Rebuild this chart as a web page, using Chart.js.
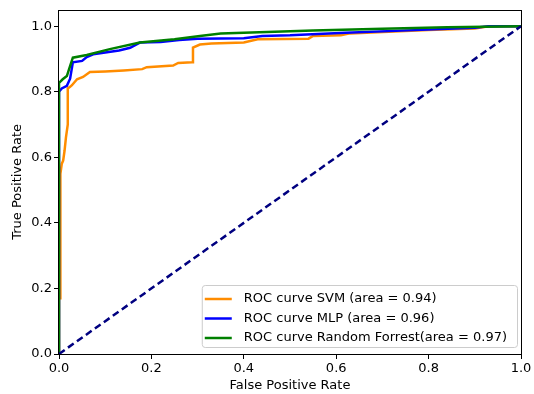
<!DOCTYPE html>
<html>
<head>
<meta charset="utf-8">
<script src="https://cdn.jsdelivr.net/npm/chart.js@4"></script>
<style>
    html, body { margin: 0; padding: 0; background: #fff; }
</style>
</head>
<body>
<canvas id="roc" width="534" height="394"></canvas>
<script>
// ROC points
const svmFpr = [0, 0, 0.003, 0.003, 0.006, 0.009, 0.012, 0.015, 0.019, 0.019, 0.024, 0.028, 0.039, 0.052, 0.067, 0.10, 0.14, 0.18, 0.19, 0.247, 0.258, 0.288, 0.29, 0.305, 0.33, 0.40, 0.43, 0.54, 0.55, 0.61, 0.63, 0.75, 0.80, 0.90, 0.93, 1.0];
const svmTpr = [0, 0.17, 0.17, 0.55, 0.58, 0.59, 0.62, 0.66, 0.70, 0.81, 0.815, 0.82, 0.838, 0.845, 0.86, 0.862, 0.865, 0.869, 0.875, 0.88, 0.888, 0.89, 0.935, 0.944, 0.947, 0.95, 0.96, 0.962, 0.97, 0.972, 0.978, 0.985, 0.988, 0.993, 1.0, 1.0];

const mlpFpr = [0, 0, 0.006, 0.017, 0.024, 0.03, 0.05, 0.06, 0.074, 0.10, 0.13, 0.154, 0.175, 0.22, 0.26, 0.30, 0.40, 0.44, 0.50, 0.62, 0.77, 0.90, 0.93, 1.0];
const mlpTpr = [0, 0.80, 0.81, 0.818, 0.84, 0.89, 0.894, 0.906, 0.914, 0.92, 0.926, 0.934, 0.95, 0.952, 0.958, 0.962, 0.963, 0.97, 0.972, 0.98, 0.988, 0.995, 1.0, 1.0];

const rfFpr = [0, 0, 0.008, 0.017, 0.022, 0.03, 0.06, 0.11, 0.175, 0.25, 0.305, 0.35, 0.45, 0.55, 0.70, 0.84, 1.0];
const rfTpr = [0, 0.827, 0.838, 0.848, 0.87, 0.904, 0.912, 0.93, 0.95, 0.96, 0.97, 0.978, 0.982, 0.987, 0.992, 0.997, 1.0];

const chanceFpr = [0, 1];
const chanceTpr = [0, 1];

const labels = ['ROC curve SVM (area = 0.94)', 'ROC curve MLP (area = 0.96)', 'ROC curve Random Forrest(area = 0.97)'];
const xTicks = [0, 0.2, 0.4, 0.6, 0.8, 1.0];
const yTicks = [0, 0.2, 0.4, 0.6, 0.8, 1.0];

const FONT = '"DejaVu Sans", sans-serif';

function pts(xs, ys) {
    return xs.map((x, i) => ({ x: x, y: ys[i] }));
}

// black box round the plot area, like matplotlib spines
const frame = {
    id: 'frame',
    afterDatasetsDraw(chart) {
        const a = chart.chartArea;
        const ctx = chart.ctx;
        ctx.save();
        ctx.strokeStyle = '#000';
        ctx.lineWidth = 1;
        ctx.strokeRect(Math.round(a.left) - 0.5, Math.round(a.top) + 0.5, Math.round(a.right - a.left) + 1, Math.round(a.bottom - a.top));
        ctx.restore();
    }
};

// legend box in the lower right corner
const boxLegend = {
    id: 'boxLegend',
    afterDraw(chart) {
        const ctx = chart.ctx;
        const a = chart.chartArea;
        const items = chart.data.datasets.filter(d => d.label);
        ctx.save();
        ctx.font = '13px ' + FONT;
        const textW = Math.max(...items.map(d => ctx.measureText(d.label).width));
        const w = 42 + textW + 10;
        const h = 62;
        const right = a.right - 4, bottom = a.bottom - 7;
        const left = right - w, top = bottom - h;
        ctx.beginPath();
        ctx.roundRect(left + 0.5, top + 0.5, w, h, 3);
        ctx.fillStyle = 'rgba(255,255,255,0.8)';
        ctx.fill();
        ctx.strokeStyle = '#cccccc';
        ctx.lineWidth = 1;
        ctx.stroke();
        items.forEach((d, i) => {
            const y = top + 14 + i * 19.5;
            ctx.beginPath();
            ctx.moveTo(left + 3, y);
            ctx.lineTo(left + 30, y);
            ctx.strokeStyle = d.borderColor;
            ctx.lineWidth = 2.5;
            ctx.stroke();
            ctx.fillStyle = '#000';
            ctx.textBaseline = 'middle';
            ctx.fillText(d.label, left + 42, y);
        });
        ctx.restore();
    }
};

const lineStyle = { showLine: true, pointRadius: 0, borderWidth: 2.5, tension: 0, fill: false };

new Chart(document.getElementById('roc').getContext('2d'), {
    type: 'line',
    data: {
        datasets: [
            Object.assign({ label: labels[0], data: pts(svmFpr, svmTpr), borderColor: '#ff8c00', order: 4 }, lineStyle),
            Object.assign({ label: labels[1], data: pts(mlpFpr, mlpTpr), borderColor: '#0000ff', order: 3 }, lineStyle),
            Object.assign({ label: labels[2], data: pts(rfFpr, rfTpr), borderColor: '#008000', order: 2 }, lineStyle),
            Object.assign({ label: '', data: pts(chanceFpr, chanceTpr), borderColor: '#000080', borderDash: [7, 4], order: 1 }, lineStyle)
        ]
    },
    options: {
        responsive: false,
        animation: false,
        layout: { padding: { top: 8, right: 13, left: 0, bottom: 0 } },
        plugins: { legend: { display: false }, tooltip: { enabled: false } },
        scales: {
            x: {
                type: 'linear', min: 0, max: 1,
                afterBuildTicks: s => { s.ticks = xTicks.map(v => ({ value: v })); },
                afterFit: s => { s.height = 40; },
                grid: { display: true, drawOnChartArea: false, drawTicks: true, tickLength: 5, color: '#000' },
                border: { display: false },
                ticks: { color: '#000', font: { family: FONT, size: 13 }, padding: 2, maxRotation: 0, callback: v => v.toFixed(1) },
                title: { display: true, text: 'False Positive Rate', color: '#000', font: { family: FONT, size: 13 }, padding: { top: 0, bottom: 1 } }
            },
            y: {
                type: 'linear', min: 0, max: 1.05,
                afterBuildTicks: s => { s.ticks = yTicks.map(v => ({ value: v })); },
                afterFit: s => { s.width = 59; },
                grid: { display: true, drawOnChartArea: false, drawTicks: true, tickLength: 5, color: '#000' },
                border: { display: false },
                ticks: { color: '#000', font: { family: FONT, size: 13 }, padding: 2, callback: v => v.toFixed(1) },
                title: { display: true, text: 'True Positive Rate', color: '#000', font: { family: FONT, size: 13 }, padding: { top: 10, bottom: 0 } }
            }
        }
    },
    plugins: [frame, boxLegend]
});
</script>
</body>
</html>
